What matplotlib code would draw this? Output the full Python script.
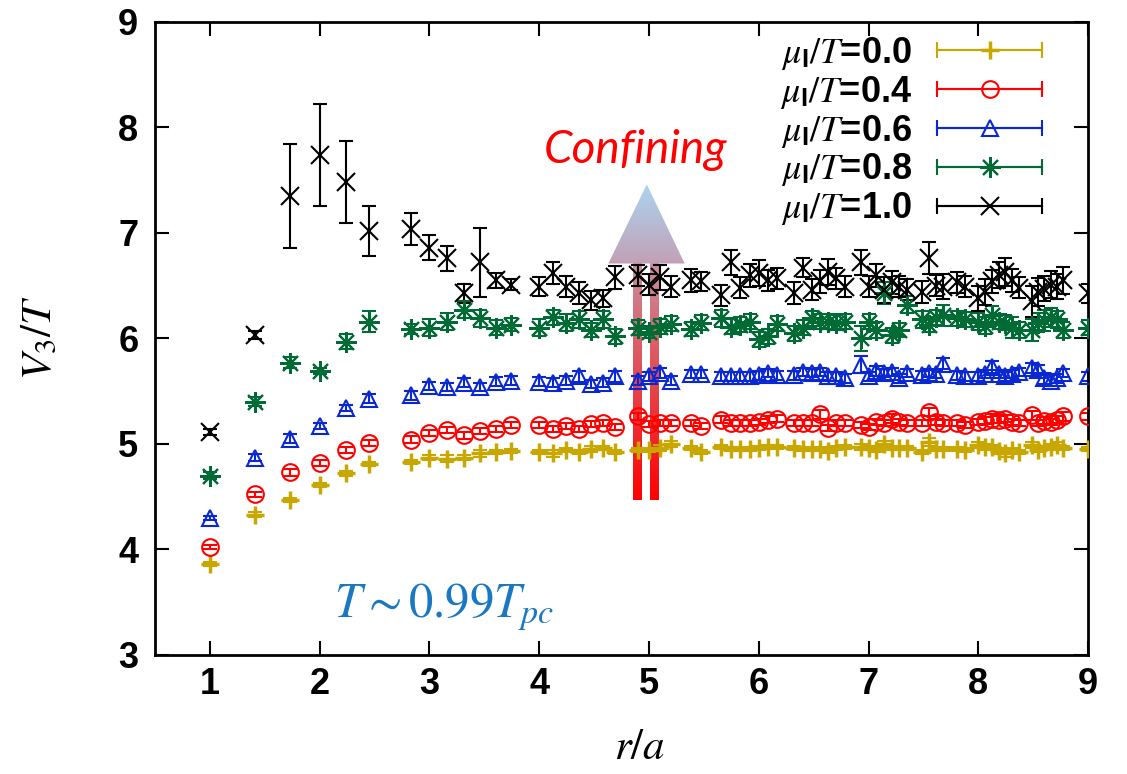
import numpy as np
import matplotlib
matplotlib.use("Agg")
import matplotlib.pyplot as plt
from matplotlib.lines import Line2D
from matplotlib.patches import Polygon
from matplotlib.colors import LinearSegmentedColormap
from matplotlib.legend_handler import HandlerTuple, HandlerLine2D

plt.rcParams['mathtext.fontset'] = 'stix'
plt.rcParams['font.family'] = ['Liberation Sans', 'DejaVu Sans']

# lattice separations r/a
r = [1.000, 1.414, 1.732, 2.000, 2.236, 2.449, 2.828, 3.000, 3.162, 3.317,
     3.464, 3.606, 3.742, 4.000, 4.123, 4.243, 4.359, 4.472, 4.583, 4.690,
     4.899, 5.000, 5.099, 5.196, 5.385, 5.477, 5.657, 5.745, 5.831, 5.916,
     6.000, 6.083, 6.164, 6.325, 6.403, 6.481, 6.557, 6.633, 6.708, 6.782,
     6.928, 7.000, 7.071, 7.141, 7.211, 7.280, 7.348, 7.483, 7.550, 7.616,
     7.681, 7.810, 7.874, 8.000, 8.062, 8.124, 8.185, 8.246, 8.307, 8.367,
     8.485, 8.544, 8.602, 8.660, 8.718, 8.775, 9.000]

# V3/T for mu_I/T = 0.0
v_00 = [3.86, 4.33, 4.47, 4.61, 4.72, 4.81, 4.83, 4.87, 4.86, 4.87,
        4.91, 4.92, 4.93, 4.92, 4.91, 4.94, 4.92, 4.95, 4.96, 4.92,
        4.94, 4.94, 4.96, 5.00, 4.96, 4.92, 4.97, 4.95, 4.95, 4.95,
        4.96, 4.97, 4.97, 4.96, 4.95, 4.95, 4.95, 4.93, 4.96, 4.97,
        4.97, 4.96, 4.94, 5.00, 4.96, 4.96, 4.96, 4.92, 5.02, 4.95,
        4.95, 4.95, 4.94, 4.99, 4.97, 4.97, 4.93, 4.91, 4.94, 4.92,
        4.99, 4.94, 4.96, 4.97, 4.99, 4.96, 4.95]
e_00 = [0.02, 0.02, 0.02, 0.02, 0.02, 0.02, 0.02, 0.02, 0.03, 0.02,
        0.03, 0.02, 0.02, 0.02, 0.03, 0.02, 0.02, 0.03, 0.02, 0.02,
        0.02, 0.02, 0.03, 0.03, 0.02, 0.02, 0.02, 0.02, 0.02, 0.02,
        0.02, 0.02, 0.02, 0.02, 0.02, 0.02, 0.02, 0.02, 0.02, 0.02,
        0.03, 0.02, 0.02, 0.03, 0.02, 0.02, 0.02, 0.02, 0.04, 0.02,
        0.02, 0.02, 0.02, 0.03, 0.03, 0.02, 0.03, 0.03, 0.02, 0.02,
        0.03, 0.02, 0.02, 0.03, 0.03, 0.02, 0.02]

# mu_I/T = 0.4
v_04 = [4.02, 4.52, 4.73, 4.82, 4.94, 5.01, 5.04, 5.10, 5.13, 5.08,
        5.12, 5.14, 5.18, 5.18, 5.14, 5.17, 5.14, 5.19, 5.20, 5.16,
        5.26, 5.19, 5.20, 5.20, 5.20, 5.17, 5.23, 5.20, 5.20, 5.20,
        5.21, 5.23, 5.24, 5.20, 5.20, 5.20, 5.28, 5.15, 5.20, 5.20,
        5.18, 5.16, 5.21, 5.20, 5.24, 5.21, 5.20, 5.20, 5.30, 5.21,
        5.20, 5.20, 5.18, 5.21, 5.22, 5.24, 5.23, 5.24, 5.21, 5.20,
        5.27, 5.20, 5.22, 5.21, 5.23, 5.26, 5.26]
e_04 = [0.02, 0.02, 0.03, 0.03, 0.03, 0.03, 0.03, 0.03, 0.03, 0.03,
        0.03, 0.03, 0.03, 0.03, 0.03, 0.03, 0.03, 0.03, 0.03, 0.03,
        0.03, 0.03, 0.03, 0.03, 0.03, 0.03, 0.03, 0.03, 0.03, 0.03,
        0.03, 0.03, 0.03, 0.03, 0.03, 0.03, 0.04, 0.03, 0.03, 0.03,
        0.03, 0.03, 0.03, 0.03, 0.04, 0.03, 0.03, 0.03, 0.04, 0.03,
        0.03, 0.03, 0.03, 0.03, 0.03, 0.04, 0.03, 0.03, 0.03, 0.03,
        0.04, 0.03, 0.03, 0.03, 0.03, 0.04, 0.03]

# mu_I/T = 0.6
v_06 = [4.30, 4.87, 5.05, 5.17, 5.34, 5.43, 5.46, 5.55, 5.54, 5.58,
        5.54, 5.59, 5.60, 5.59, 5.58, 5.60, 5.64, 5.57, 5.58, 5.64,
        5.60, 5.64, 5.67, 5.60, 5.66, 5.66, 5.64, 5.64, 5.64, 5.64,
        5.65, 5.67, 5.65, 5.65, 5.68, 5.67, 5.68, 5.64, 5.64, 5.62,
        5.75, 5.64, 5.69, 5.67, 5.68, 5.62, 5.67, 5.65, 5.67, 5.66,
        5.76, 5.65, 5.64, 5.64, 5.66, 5.73, 5.66, 5.64, 5.66, 5.68,
        5.72, 5.70, 5.62, 5.60, 5.62, 5.67, 5.64]
e_06 = [0.02, 0.03, 0.04, 0.03, 0.03, 0.04, 0.04, 0.04, 0.04, 0.04,
        0.04, 0.04, 0.04, 0.04, 0.04, 0.04, 0.05, 0.04, 0.04, 0.05,
        0.04, 0.04, 0.05, 0.04, 0.04, 0.04, 0.04, 0.04, 0.04, 0.04,
        0.04, 0.04, 0.04, 0.04, 0.04, 0.04, 0.04, 0.04, 0.04, 0.04,
        0.08, 0.04, 0.05, 0.04, 0.04, 0.04, 0.04, 0.04, 0.04, 0.04,
        0.05, 0.04, 0.04, 0.04, 0.04, 0.06, 0.04, 0.04, 0.04, 0.04,
        0.05, 0.05, 0.05, 0.05, 0.04, 0.04, 0.04]

# mu_I/T = 0.8
v_08 = [4.70, 5.40, 5.77, 5.69, 5.97, 6.16, 6.09, 6.10, 6.16, 6.27,
        6.19, 6.10, 6.13, 6.10, 6.20, 6.15, 6.18, 6.08, 6.18, 6.02,
        6.10, 6.06, 6.11, 6.14, 6.09, 6.15, 6.19, 6.11, 6.13, 6.16,
        5.99, 6.02, 6.14, 6.05, 6.10, 6.19, 6.16, 6.16, 6.15, 6.16,
        6.00, 6.16, 6.08, 6.43, 6.03, 6.08, 6.32, 6.18, 6.13, 6.20,
        6.22, 6.19, 6.18, 6.16, 6.12, 6.22, 6.16, 6.15, 6.10, 6.08,
        6.08, 6.15, 6.17, 6.20, 6.18, 6.08, 6.10]
e_08 = [0.03, 0.04, 0.05, 0.03, 0.07, 0.10, 0.05, 0.08, 0.08, 0.08,
        0.08, 0.07, 0.06, 0.08, 0.07, 0.08, 0.08, 0.07, 0.08, 0.07,
        0.07, 0.06, 0.07, 0.07, 0.07, 0.07, 0.08, 0.07, 0.07, 0.07,
        0.07, 0.07, 0.07, 0.07, 0.07, 0.07, 0.07, 0.07, 0.07, 0.07,
        0.12, 0.07, 0.08, 0.10, 0.07, 0.07, 0.08, 0.08, 0.07, 0.07,
        0.10, 0.07, 0.07, 0.08, 0.08, 0.09, 0.07, 0.07, 0.10, 0.08,
        0.10, 0.09, 0.10, 0.09, 0.08, 0.08, 0.07]

# mu_I/T = 1.0
v_10 = [5.11, 6.03, 7.35, 7.74, 7.48, 7.02, 7.04, 6.86, 6.76, 6.43,
        6.72, 6.55, 6.51, 6.49, 6.62, 6.49, 6.43, 6.36, 6.38, 6.58,
        6.60, 6.51, 6.58, 6.49, 6.55, 6.54, 6.41, 6.72, 6.48, 6.60,
        6.62, 6.55, 6.57, 6.43, 6.67, 6.46, 6.54, 6.63, 6.57, 6.49,
        6.72, 6.49, 6.60, 6.46, 6.53, 6.49, 6.46, 6.44, 6.76, 6.50,
        6.49, 6.53, 6.49, 6.38, 6.44, 6.54, 6.60, 6.63, 6.55, 6.48,
        6.35, 6.44, 6.47, 6.51, 6.49, 6.55, 6.43]
e_10 = [0.03, 0.04, 0.49, 0.48, 0.39, 0.24, 0.15, 0.12, 0.12, 0.09,
        0.33, 0.07, 0.05, 0.09, 0.10, 0.10, 0.10, 0.09, 0.08, 0.11,
        0.10, 0.10, 0.12, 0.10, 0.11, 0.09, 0.10, 0.12, 0.10, 0.11,
        0.12, 0.10, 0.10, 0.10, 0.09, 0.10, 0.11, 0.12, 0.10, 0.10,
        0.12, 0.10, 0.11, 0.12, 0.11, 0.10, 0.10, 0.10, 0.15, 0.10,
        0.12, 0.10, 0.10, 0.12, 0.12, 0.11, 0.12, 0.13, 0.11, 0.10,
        0.15, 0.13, 0.12, 0.13, 0.12, 0.13, 0.09]

labels = ['0.0', '0.4', '0.6', '0.8', '1.0']
values = [v_00, v_04, v_06, v_08, v_10]
errors = [e_00, e_04, e_06, e_08, e_10]
colors = ['#c8a800', '#ff0000', '#0a28d2', '#006b35', '#000000']
markers = ['+', 'o', '^', (8, 2, 0), 'x']
msizes = [13, 12, 11, 15, 13]
mwidths = [2.5, 1.5, 1.5, 1.5, 1.5]

fig = plt.figure(figsize=(11.27, 7.74), dpi=100)
ax = fig.add_axes([0.1375, 0.154, 0.828, 0.8176])

# gradient arrow (drawn under the data)
grad = np.linspace(0, 1, 256).reshape(-1, 1)
bar_cmap = LinearSegmentedColormap.from_list('bar', ['#ff0000', '#c8909f'])
head_cmap = LinearSegmentedColormap.from_list('head', ['#c2a0b6', '#acd4f0'])
for xc in (4.89, 5.05):
    ax.imshow(grad, extent=(xc - 0.04, xc + 0.04, 4.47, 6.72), origin='lower',
              cmap=bar_cmap, aspect='auto', zorder=1.5)
head = Polygon([[4.63, 6.71], [5.325, 6.71], [4.98, 7.46]], closed=True,
               facecolor='none', edgecolor='none', transform=ax.transData)
ax.add_patch(head)
im = ax.imshow(grad, extent=(4.6, 5.35, 6.71, 7.46), origin='lower',
               cmap=head_cmap, aspect='auto', zorder=1.5)
im.set_clip_path(head)

for v, e, c, m, ms, mw in zip(values, errors, colors, markers, msizes, mwidths):
    ax.errorbar(r, v, yerr=e, fmt='none', ecolor=c, elinewidth=1.5,
                capsize=5, capthick=1.5, zorder=2)
    ax.plot(r, v, linestyle='none', marker=m, color=c, markersize=ms,
            markeredgewidth=mw, markerfacecolor='none', zorder=3)

ax.set_xlim(0.5, 9)
ax.set_ylim(3, 9)
ax.set_xticks(range(1, 10))
ax.set_yticks(range(3, 10))
ax.tick_params(direction='in', length=10, width=1.5, top=True, right=True,
               labelsize=26, pad=12)
ax.tick_params(axis='x', pad=9)
for lab in ax.get_xticklabels() + ax.get_yticklabels():
    lab.set_fontweight('bold')
for sp in ax.spines.values():
    sp.set_linewidth(2)

fig.text(40 / 1127, 1 - 338 / 774, r'$V_3/T$', rotation=90, fontsize=31,
         ha='center', va='center')
fig.text(640 / 1127, 1 - 748 / 774, r'$r/a$', fontsize=31,
         ha='center', va='center')

ax.text(4.88, 7.79, 'Confining', color='#ff0000', fontsize=33,
        fontstyle='italic', family=['Lato', 'DejaVu Sans'],
        ha='center', va='center', zorder=6)
ax.text(2.13, 3.45, r'$T\sim0.99T_{pc}$', color='#1a78c2', fontsize=35,
        ha='left', va='center')

# legend in gnuplot style: text then errorbar sample
handles = []
hmap = {tuple: HandlerTuple(ndivide=1, pad=0)}
for c, m, ms, mw in zip(colors, markers, msizes, mwidths):
    caps = Line2D([], [], color=c, lw=1.5, marker='|', markersize=12,
                  markeredgewidth=1.5)
    main = Line2D([], [], color=c, lw=1.5, marker=m, markersize=ms,
                  markeredgewidth=mw, markerfacecolor='none')
    hmap[caps] = HandlerLine2D(numpoints=2, marker_pad=0)
    handles.append((caps, main))
leg_labels = [r'$\mu_{\mathregular{I}}/T$=' + s for s in labels]
ax.legend(handles, leg_labels, handler_map=hmap, numpoints=1,
          markerfirst=False, frameon=False, loc='upper right',
          bbox_to_anchor=(0.97, 1.008), borderaxespad=0.1,
          prop={'weight': 'bold', 'size': 26}, handlelength=2.9,
          handletextpad=0.7, labelspacing=0.05)

fig.savefig('out.png', dpi=100)
